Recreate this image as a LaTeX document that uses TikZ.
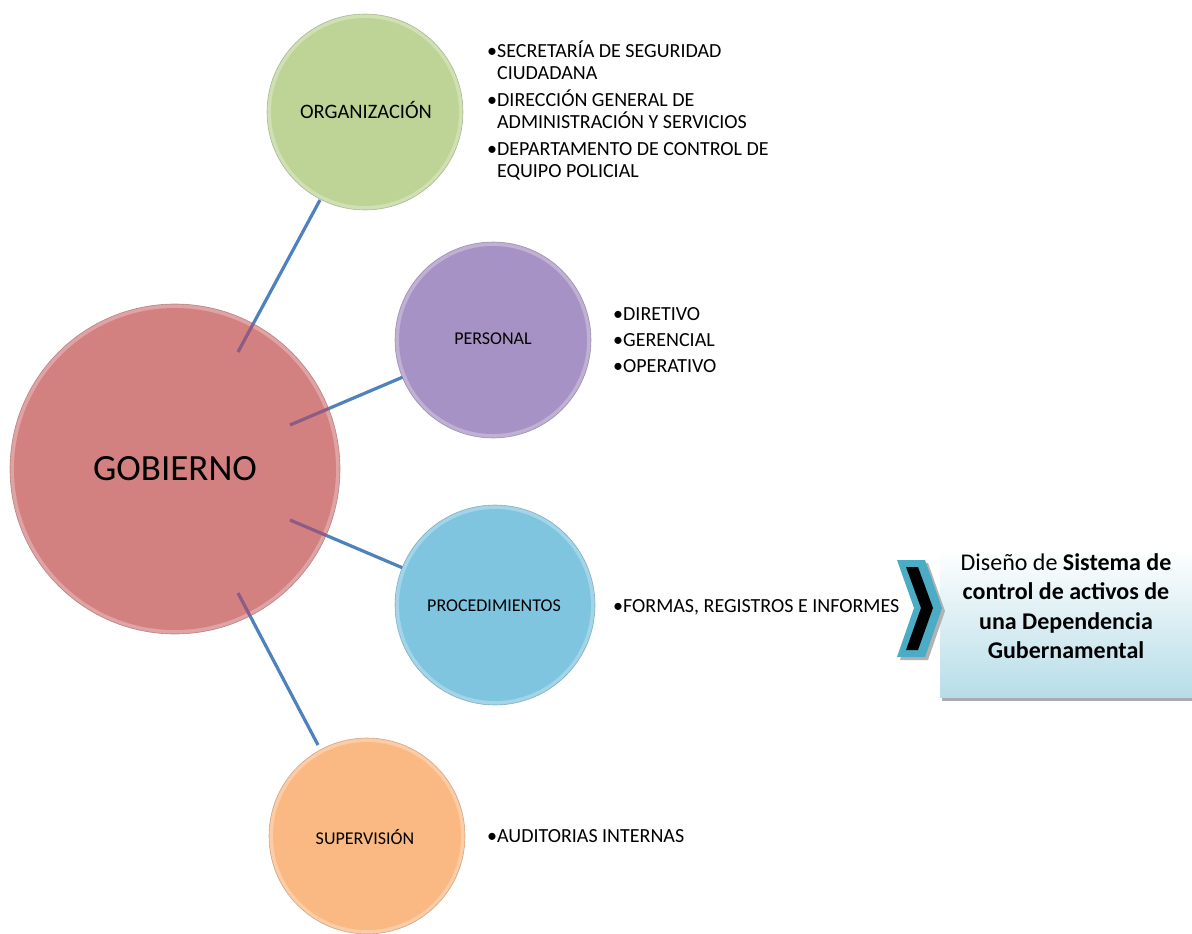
\documentclass[tikz,border=0pt]{standalone}
\usepackage{fontspec}
\setmainfont{Carlito}
\definecolor{linkblue}{RGB}{79,129,189}
\definecolor{linkin}{RGB}{140,92,132}
\definecolor{gobfill}{RGB}{211,128,129}
\definecolor{orgfill}{RGB}{190,212,150}
\definecolor{perfill}{RGB}{166,146,196}
\definecolor{profill}{RGB}{128,197,224}
\definecolor{supfill}{RGB}{250,184,130}
\definecolor{teal}{RGB}{75,172,198}
\definecolor{boxblue}{RGB}{183,221,232}
\tikzset{
  x=1pt,y=-1pt,
  bubble/.style={circle,inner sep=0pt,font=\fontsize{18}{21}\selectfont},
  link/.style={draw=linkblue,line width=3.2pt},
  list/.style={anchor=west,align=left,inner sep=0pt,font=\fontsize{20}{22}\selectfont},
}
\newcommand{\bevel}[3]{% center, radius, color
  \fill[#3!72!white] #1 circle (#2);
  \fill[#3] #1 circle (#2-4);
  \draw[#3!70!black,line width=0.6pt,opacity=0.6] #1 circle (#2);
}
\begin{document}
\begin{tikzpicture}
\useasboundingbox (0,0) rectangle (1192,934);
% connector anchor points
\coordinate (g1) at (238,352);
\coordinate (o1) at (320,200);
\coordinate (g2) at (290,425);
\coordinate (p1) at (403,377);
\coordinate (g3) at (290,520);
\coordinate (r1) at (403,568);
\coordinate (g4) at (238,593);
\coordinate (s1) at (318,745);
\draw[link] (g1) -- (o1);
\draw[link] (g2) -- (p1);
\draw[link] (g3) -- (r1);
\draw[link] (g4) -- (s1);
% gobierno
\bevel{(175,469)}{165}{gobfill}
\begin{scope}
\clip (175,469) circle (165);
\draw[link,draw=linkin] (g1) -- (o1);
\draw[link,draw=linkin] (g2) -- (p1);
\draw[link,draw=linkin] (g3) -- (r1);
\draw[link,draw=linkin] (g4) -- (s1);
\end{scope}
\node[bubble,font=\fontsize{37}{44}\selectfont] (gob) at (175,469) {GOBIERNO};
% satellites
\bevel{(365,112)}{98}{orgfill}
\node[bubble,font=\fontsize{20.5}{24}\selectfont] (org) at (366,110) {ORGANIZACIÓN};
\bevel{(493,340)}{98}{perfill}
\node[bubble] (per) at (493,339) {PERSONAL};
\bevel{(495,605)}{100}{profill}
\node[bubble] (pro) at (494,606) {PROCEDIMIENTOS};
\bevel{(367,836)}{98}{supfill}
\node[bubble] (sup) at (365,837) {SUPERVISIÓN};
% lists
\node[list] (lorg) at (487,110) {•SECRETARÍA DE SEGURIDAD\\\phantom{•}CIUDADANA\\[5pt]•DIRECCIÓN GENERAL DE\\\phantom{•}ADMINISTRACIÓN Y SERVICIOS\\[5pt]•DEPARTAMENTO DE CONTROL DE\\\phantom{•}EQUIPO POLICIAL};
\node[list] (lper) at (613,340) {•DIRETIVO\\[4pt]•GERENCIAL\\[4pt]•OPERATIVO};
\node[list] (lpro) at (613,607) {•FORMAS, REGISTROS E INFORMES};
\node[list] (lsup) at (487,836) {•AUDITORIAS INTERNAS};
% result box
\fill[gray!65] (942,552) rectangle (1192,701);
\shade[top color=white,bottom color=boxblue] (940,548) rectangle (1192,697);
\node[align=center,font=\fontsize{24}{29.5}\selectfont] (res) at (1066,606) {Diseño de \textbf{Sistema de}\\\textbf{control de activos de}\\\textbf{una Dependencia}\\\textbf{Gubernamental}};
% chevron
\fill[gray!60] (900,563) -- (928,563) -- (945,611) -- (928,660) -- (900,660) -- (917,611) -- cycle;
\fill[teal] (897,560) -- (925,560) -- (942,608) -- (925,657) -- (897,657) -- (914,608) -- cycle;
\fill[black] (906,567) -- (918,567) -- (933,608) -- (918,650) -- (906,650) -- (921,608) -- cycle;
\node[inner sep=0pt] (chev) at (920,608) {};
\end{tikzpicture}
\end{document}
